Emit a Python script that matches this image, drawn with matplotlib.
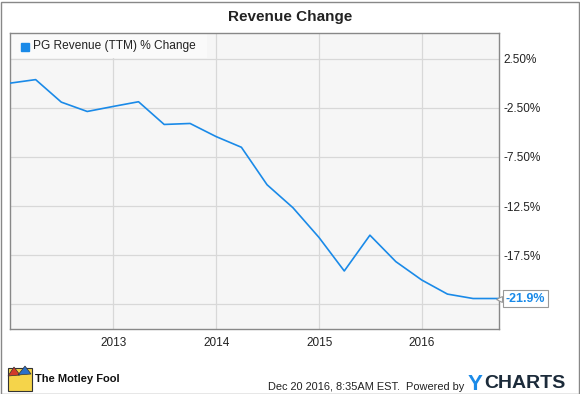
import matplotlib
matplotlib.use("Agg")
import matplotlib.pyplot as plt
from matplotlib.patches import Rectangle, Polygon
import pandas as pd

plt.rcParams['font.family'] = ['Liberation Sans', 'DejaVu Sans']

# quarterly TTM revenue % change for PG
dates = pd.to_datetime([
    "2011-12-31", "2012-03-31", "2012-06-30", "2012-09-30", "2012-12-31",
    "2013-03-31", "2013-06-30", "2013-09-30", "2013-12-31", "2014-03-31",
    "2014-06-30", "2014-09-30", "2014-12-31", "2015-03-31", "2015-06-30",
    "2015-09-30", "2015-12-31", "2016-03-31", "2016-06-30", "2016-09-30",
])
pct_change = [0.0, 0.36, -1.93, -2.88, -2.37,
              -1.89, -4.20, -4.10, -5.43, -6.52,
              -10.33, -12.67, -15.68, -19.10, -15.46,
              -18.15, -20.02, -21.45, -21.9, -21.9]
series_name = "PG Revenue (TTM) % Change"
year_ticks = pd.to_datetime(["2013-01-01", "2014-01-01", "2015-01-01", "2016-01-01"])
year_labels = ["2013", "2014", "2015", "2016"]
y_ticks = [2.5, -2.5, -7.5, -12.5, -17.5, -22.5]
y_labels = ["2.50%", "-2.50%", "-7.50%", "-12.5%", "-17.5%", ""]

blue = "#1a8ae8"
W, H = 580, 394
fig = plt.figure(figsize=(5.8, 3.94), dpi=100)
fig.patch.set_facecolor("white")

ax = fig.add_axes([10 / W, 65 / H, 489 / W, 296 / H])
ax.set_facecolor("#f6f6f6")
ax.plot(dates, pct_change, color=blue, lw=1.2, zorder=3)
ax.set_xlim(dates[0], dates[-1])
ax.set_ylim(-25.0, 5.1)

ax.set_xticks(year_ticks)
ax.set_xticklabels(year_labels)
ax.set_yticks(y_ticks)
ax.set_yticklabels(y_labels)
ax.yaxis.tick_right()
ax.tick_params(axis="both", length=0, labelsize=8.5, colors="#222222")
ax.tick_params(axis="y", pad=3)
ax.tick_params(axis="x", pad=6)
ax.grid(True, color="#d8d8d8", lw=0.9)
ax.set_axisbelow(True)
for s in ax.spines.values():
    s.set_color("#888888")
    s.set_linewidth(1.0)

# legend block
ax.add_patch(Rectangle((0, 1 - 25 / 296), 197 / 489, 25 / 296, transform=ax.transAxes,
                       facecolor="#fafafa", edgecolor="none", zorder=2))
ax.plot([14.5 / 489], [1 - 14 / 296], marker="s", ms=5.8, color=blue,
        transform=ax.transAxes, zorder=4, clip_on=False)
ax.text(23 / 489, 1 - 13.5 / 296, series_name, transform=ax.transAxes, fontsize=8.6,
        va="center", ha="left", color="#222222", zorder=4)

# last value tag with a small pointer
ax.annotate(f"{pct_change[-1]:.1f}%", xy=(dates[-1], pct_change[-1]), xytext=(5, 0),
            textcoords="offset points", va="center", ha="left", fontsize=9,
            fontweight="bold", color=blue, annotation_clip=False, zorder=6,
            bbox=dict(boxstyle="square,pad=0.2", fc="white", ec="#999999", lw=0.8))
ax.plot([dates[-1]], [pct_change[-1]], marker="<", ms=5, mfc="white", mec="#999999",
        mew=0.8, clip_on=False, zorder=5)

fig.text(290 / W, 1 - 17 / H, "Revenue Change", ha="center", va="center",
         fontsize=11, fontweight="bold", color="#222222")

# footer: logo
fig.patches.append(Rectangle((8 / W, 1 - 391 / H), 24 / W, 23 / H, transform=fig.transFigure,
                             facecolor="#f5d44a", edgecolor="#333333", lw=0.8))
fig.patches.append(Polygon([(8 / W, 1 - 376 / H), (14 / W, 1 - 367 / H), (20 / W, 1 - 375 / H)],
                           closed=True, transform=fig.transFigure, facecolor="#d23a2a",
                           edgecolor="#333333", lw=0.5))
fig.patches.append(Polygon([(18 / W, 1 - 375 / H), (25 / W, 1 - 366 / H), (31 / W, 1 - 374 / H)],
                           closed=True, transform=fig.transFigure, facecolor="#2a6fc9",
                           edgecolor="#333333", lw=0.5))
fig.text(35 / W, 1 - 379 / H, "The Motley Fool", ha="left", va="center",
         fontsize=8, fontweight="bold", color="#111111")

fig.text(464 / W, 1 - 387.5 / H, "Dec 20 2016, 8:35AM EST.  Powered by", ha="right",
         va="center", fontsize=7.9, color="#222222")
fig.text(468 / W, 1 - 384 / H, "Y", ha="left", va="center", fontsize=16,
         fontweight="bold", color="#1a8ae8")
fig.text(484 / W, 1 - 384 / H, "CHARTS", ha="left", va="center", fontsize=14,
         fontweight="bold", color="#1c2b3a")

# outer frame
fig.patches.append(Rectangle((0.5 / W, 0.5 / H), 578 / W, 392 / H, transform=fig.transFigure,
                             fill=False, edgecolor="#888888", lw=1.0))

fig.savefig("out.png", dpi=100, facecolor="white")
